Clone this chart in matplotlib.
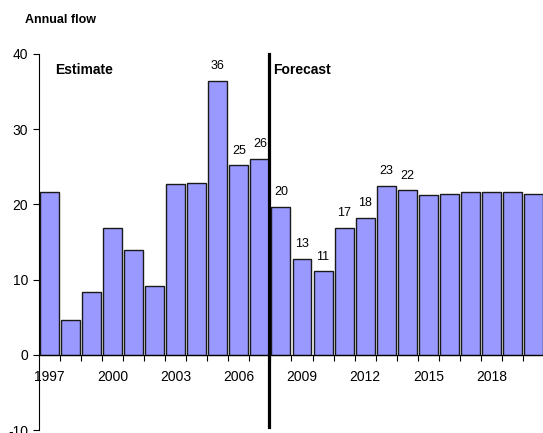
import numpy as np
import matplotlib
matplotlib.use('Agg')
import matplotlib.pyplot as plt

###############################################################################

years=list(range(1997,2021))
flow=[21.6,4.65,8.3,16.8,14.0,9.2,22.7,22.9,36.45,25.2,26.1,
      19.7,12.8,11.1,16.9,18.25,22.5,21.9,21.2,21.35,21.6,21.6,21.6,21.35]
bar_labels=['','','','','','','','','36','25','26',
            '20','13','11','17','18','23','22','','','','','','']
tick_years=[1997,2000,2003,2006,2009,2012,2015,2018]

###############################################################################

plt.rcParams['font.family']=['Liberation Sans','DejaVu Sans']
plt.rcParams['axes.unicode_minus']=False

fig=plt.figure(figsize=(5.43,4.33),dpi=100)
ax=fig.add_axes([0.0718,0.0069,0.93,0.8684])

x=np.arange(len(years))
ax.bar(x,flow,width=0.9,color='#9999ff',edgecolor='#1a1a1a',linewidth=1.0,zorder=2)

for xi,v,lab in zip(x,flow,bar_labels):
    if lab:
        ax.annotate(lab,(xi,v),xytext=(0,10.5),textcoords='offset points',
                    ha='center',va='center',fontsize=9)

# estimate / forecast split
ax.plot([10.45,10.45],[-9.6,40],color='black',lw=2.3,zorder=3,clip_on=False)
ax.text(0.26,37.9,'Estimate',fontsize=10,fontweight='bold',va='center')
ax.text(10.64,37.9,'Forecast',fontsize=10,fontweight='bold',va='center')

ax.set_xlim(-0.5,len(years)-0.5)
ax.set_ylim(-10,40)
ax.set_yticks([-10,0,10,20,30,40])
ax.tick_params(axis='y',direction='out',length=4,pad=4,labelsize=10)

ax.set_xticks(np.arange(0.5,len(years)-0.5,1.0))
ax.set_xticklabels([])
ax.set_xticks([years.index(y) for y in tick_years],minor=True)
ax.set_xticklabels([str(y) for y in tick_years],minor=True)
ax.tick_params(axis='x',which='major',direction='out',length=4)
ax.tick_params(axis='x',which='minor',length=0,pad=11,labelsize=10)

ax.spines['top'].set_visible(False)
ax.spines['right'].set_visible(False)
ax.spines['bottom'].set_position(('data',0))
ax.spines['bottom'].set_zorder(4)

fig.text(0.046,0.954,'Annual flow',fontsize=9,fontweight='bold',va='center')

fig.savefig('out.png',dpi=100)
